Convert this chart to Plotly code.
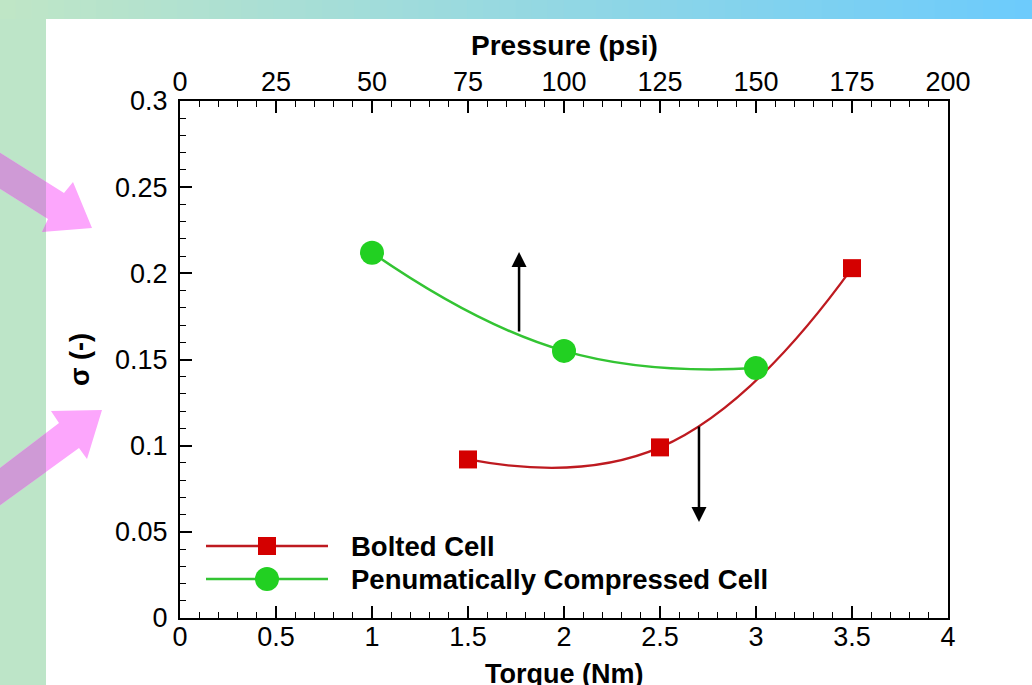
import plotly.graph_objects as go

# ---------------- data ----------------
bolted_torque = [1.5, 2.5, 3.5]
bolted_sigma = [0.092, 0.099, 0.203]
pneu_torque = [1.0, 2.0, 3.0]
pneu_sigma = [0.212, 0.155, 0.145]

series_names = ["Bolted Cell", "Penumatically Compressed Cell"]

x_range = [0, 4]
x2_range = [0, 200]
y_range = [0, 0.3]

# direction arrows (tail -> head) in data units
up_arrow = dict(x=1.766, y_tail=0.1654, y_head=0.2124)
down_arrow = dict(x=2.703, y_tail=0.112, y_head=0.0557)

# ---------------- layout helpers ----------------
W, H = 1032, 685
L, R, T, B = 180, 84, 101, 67
PW, PH = W - L - R, H - T - B


def px(x):
    return (x - L) / PW


def py(y):
    return (H - B - y) / PH


def clip_left(poly, xmax):
    out = []
    n = len(poly)
    for i in range(n):
        cx, cy = poly[i]
        nx, ny = poly[(i + 1) % n]
        cin = cx <= xmax
        nin = nx <= xmax
        if cin:
            out.append((cx, cy))
        if cin != nin:
            t = (xmax - cx) / (nx - cx)
            out.append((xmax, cy + t * (ny - cy)))
    return out


def path_of(poly):
    pts = [f"{px(x):.5f},{py(y):.5f}" for x, y in poly]
    return "M" + " L".join(pts) + " Z"


RED_M = "#d40000"
RED_L = "#be1a20"
GRN_M = "#22d022"
GRN_L = "#33c433"
FONT = "Liberation Sans, Arial, sans-serif"

fig = go.Figure()

fig.add_trace(go.Scatter(
    x=bolted_torque, y=bolted_sigma, mode="lines+markers",
    name=series_names[0],
    line=dict(color=RED_L, width=2.3, shape="spline", smoothing=1.3),
    marker=dict(symbol="square", size=18, color=RED_M),
    showlegend=False,
))
fig.add_trace(go.Scatter(
    x=pneu_torque, y=pneu_sigma, mode="lines+markers",
    name=series_names[1],
    line=dict(color=GRN_L, width=2.5, shape="spline", smoothing=1.3),
    marker=dict(symbol="circle", size=24, color=GRN_M),
    showlegend=False,
))
# empty trace to activate the top (pressure) axis
fig.add_trace(go.Scatter(x=[None], y=[None], xaxis="x2", showlegend=False,
                         hoverinfo="skip"))

shapes = []
# white panel
shapes.append(dict(type="rect", xref="paper", yref="paper", layer="below",
                   x0=px(46), x1=px(W + 2), y0=py(19), y1=py(H + 2),
                   fillcolor="white", line=dict(width=0)))
# top gradient strip
c0 = (192, 230, 198)
c1 = (108, 203, 252)
N = 64
for i in range(N):
    t = (i + 0.5) / N
    col = tuple(int(round(c0[k] + (c1[k] - c0[k]) * t)) for k in range(3))
    shapes.append(dict(type="rect", xref="paper", yref="paper", layer="below",
                       x0=px(W * i / N - 0.5), x1=px(W * (i + 1) / N + 0.5),
                       y0=py(-1), y1=py(19),
                       fillcolor="rgb(%d,%d,%d)" % col, line=dict(width=0)))

# pink arrows
arrow1 = [(-30, 134), (64, 193), (73, 182), (92, 228), (42, 232), (48, 219), (-30, 170)]
arrow2 = [(-30, 491), (59, 423), (51, 411), (102, 410), (87, 459), (79, 448), (-30, 527)]
for poly in (arrow1, arrow2):
    shapes.append(dict(type="path", xref="paper", yref="paper", layer="below",
                       path=path_of(poly), fillcolor="#fca6fc",
                       line=dict(width=0)))
    cp = clip_left(poly, 46)
    if len(cp) >= 3:
        shapes.append(dict(type="path", xref="paper", yref="paper", layer="below",
                           path=path_of(cp), fillcolor="#cf9ad6",
                           line=dict(width=0)))

# manual legend
leg_y = [546, 579]
shapes.append(dict(type="line", xref="paper", yref="paper",
                   x0=px(206), x1=px(328), y0=py(leg_y[0]), y1=py(leg_y[0]),
                   line=dict(color=RED_L, width=2.5)))
shapes.append(dict(type="rect", xref="paper", yref="paper",
                   x0=px(258), x1=px(276), y0=py(leg_y[0] - 9), y1=py(leg_y[0] + 9),
                   fillcolor=RED_M, line=dict(width=0)))
shapes.append(dict(type="line", xref="paper", yref="paper",
                   x0=px(206), x1=px(328), y0=py(leg_y[1]), y1=py(leg_y[1]),
                   line=dict(color=GRN_L, width=2.5)))
shapes.append(dict(type="circle", xref="paper", yref="paper",
                   x0=px(255), x1=px(279), y0=py(leg_y[1] - 12), y1=py(leg_y[1] + 12),
                   fillcolor=GRN_M, line=dict(width=0)))

annotations = []
for name, yy in zip(series_names, leg_y):
    annotations.append(dict(xref="paper", yref="paper", x=px(349), y=py(yy),
                            xanchor="left", yanchor="middle", showarrow=False,
                            text="<b>%s</b>" % name,
                            font=dict(family=FONT, size=27.5, color="black")))

# axis titles
annotations.append(dict(xref="paper", yref="paper", x=0.5, y=py(45),
                        xanchor="center", yanchor="middle", showarrow=False,
                        text="<b>Pressure (psi)</b>",
                        font=dict(family=FONT, size=28, color="black")))
annotations.append(dict(xref="paper", yref="paper", x=0.5, y=py(674),
                        xanchor="center", yanchor="middle", showarrow=False,
                        text="<b>Torque (Nm)</b>",
                        font=dict(family=FONT, size=27, color="black")))
annotations.append(dict(xref="paper", yref="paper", x=px(80), y=py(360),
                        xanchor="center", yanchor="middle", showarrow=False,
                        textangle=-90, text="<b>σ (-)</b>",
                        font=dict(family=FONT, size=27, color="black")))

# black direction arrows
for a in (up_arrow, down_arrow):
    annotations.append(dict(x=a["x"], y=a["y_head"], ax=a["x"], ay=a["y_tail"],
                            xref="x", yref="y", axref="x", ayref="y",
                            showarrow=True, arrowhead=2, arrowsize=1.2,
                            arrowwidth=2.5, arrowcolor="black", text=""))

tickfont = dict(family=FONT, size=27, color="black")

fig.update_layout(
    width=W, height=H,
    margin=dict(l=L, r=R, t=T, b=B, pad=0),
    paper_bgcolor="#bde5c8",
    plot_bgcolor="white",
    showlegend=False,
    shapes=shapes,
    annotations=annotations,
    xaxis=dict(range=x_range, dtick=0.5, tick0=0, ticks="inside", ticklen=12,
               tickwidth=2, tickcolor="black", showline=True, linewidth=2,
               linecolor="black", mirror=False, showgrid=False, zeroline=False,
               tickfont=tickfont, ticklabelstandoff=-6,
               minor=dict(dtick=0.1, tick0=0, ticks="inside", ticklen=6,
                          tickwidth=1, tickcolor="black", showgrid=False)),
    xaxis2=dict(range=x2_range, dtick=25, tick0=0, overlaying="x", side="top",
                ticks="inside", ticklen=12, tickwidth=2, tickcolor="black",
                showline=True, linewidth=2, linecolor="black", showgrid=False,
                zeroline=False, tickfont=tickfont, ticklabelstandoff=-3,
                minor=dict(dtick=5, tick0=0, ticks="inside", ticklen=6,
                           tickwidth=1, tickcolor="black", showgrid=False)),
    yaxis=dict(range=y_range, dtick=0.05, tick0=0, ticks="inside", ticklen=12,
               tickwidth=2, tickcolor="black", showline=True, linewidth=2,
               linecolor="black", mirror=True, showgrid=False, zeroline=False,
               tickfont=tickfont, ticklabelstandoff=5,
               minor=dict(dtick=0.01, tick0=0, ticks="inside", ticklen=6,
                          tickwidth=1, tickcolor="black", showgrid=False)),
)

fig.write_html("out.html",
               config={"displayModeBar": False},
               post_script="document.body.style.margin='0';"
                           "document.body.style.overflow='hidden';")
